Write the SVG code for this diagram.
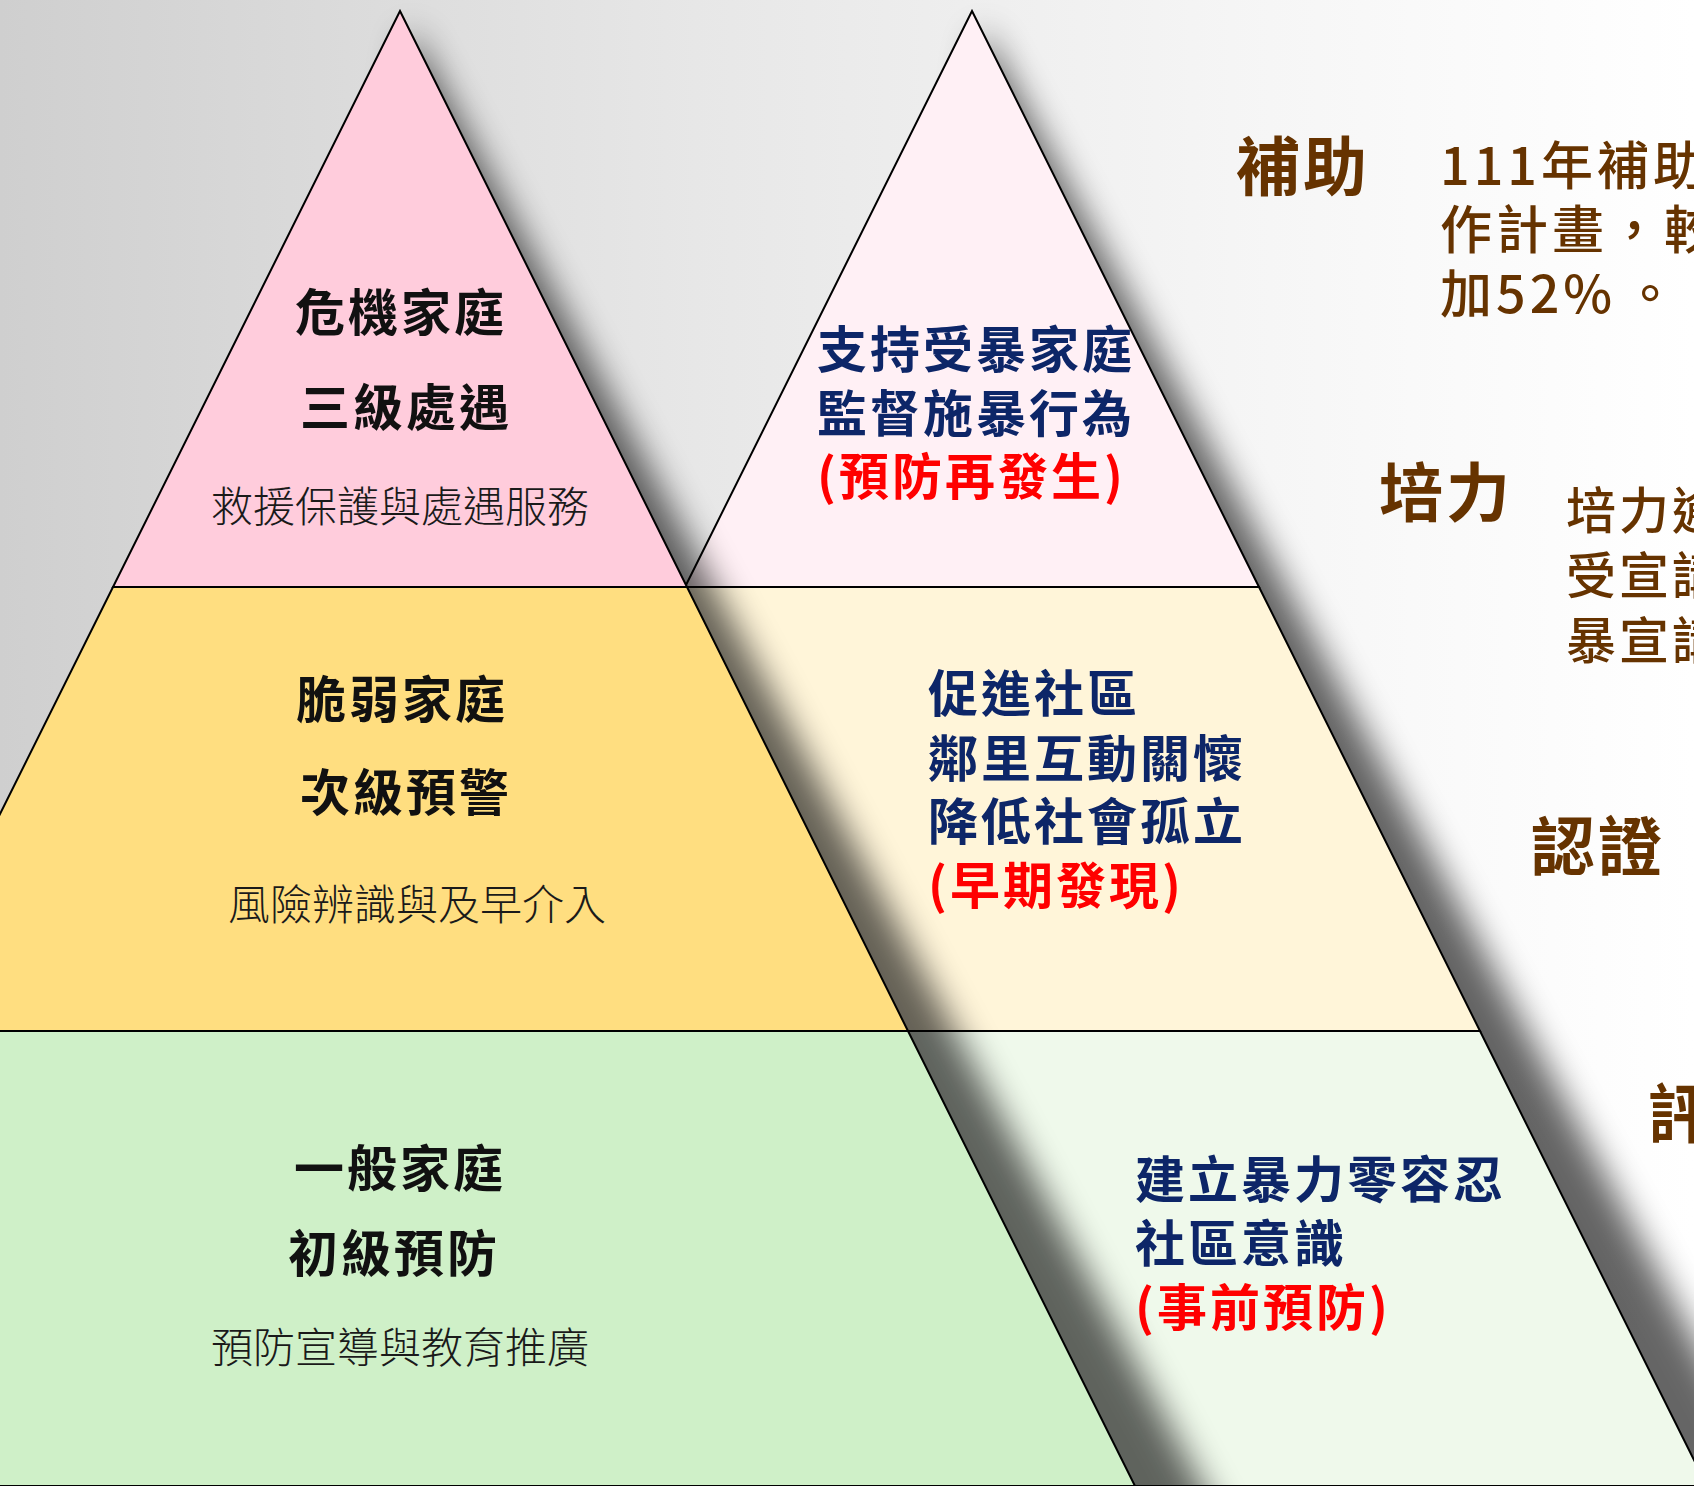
<svg xmlns="http://www.w3.org/2000/svg" width="1694" height="1486" viewBox="0 0 1694 1486">
  <defs>
    <linearGradient id="bg" x1="0" y1="0" x2="1" y2="0">
      <stop offset="0" stop-color="#cfcfcf"/>
      <stop offset="0.41" stop-color="#e7e7e7"/>
      <stop offset="0.75" stop-color="#f6f6f6"/>
      <stop offset="1" stop-color="#ffffff"/>
    </linearGradient>
    <filter id="blur" x="-20%" y="-10%" width="140%" height="120%">
      <feGaussianBlur stdDeviation="17"/>
    </filter>
    <style>
      .band { stroke: #000; stroke-width: 2; stroke-linejoin: miter; }
      .shadow { fill: #000; opacity: 0.6; filter: url(#blur); }
      text { font-family: "Noto Sans CJK TC", "Noto Sans CJK SC", sans-serif; }
      .h { font-weight: 700; font-size: 50px; fill: #111; letter-spacing: 3px; text-anchor: middle; }
      .s { font-weight: 300; font-size: 42px; fill: #1a1a1a; text-anchor: middle; }
      .b { font-weight: 700; font-size: 50px; fill: #0d2668; letter-spacing: 3px; }
      .r { fill: #ff0000; }
      .k { font-weight: 700; font-size: 64px; fill: #663300; letter-spacing: 3px; }
      .d { font-weight: 500; font-size: 52px; fill: #663300; letter-spacing: 4px; }
      .d2 { font-weight: 500; font-size: 50px; fill: #663300; letter-spacing: 3px; }
    </style>
  </defs>

  <rect x="0" y="0" width="1694" height="1486" fill="url(#bg)"/>

  <!-- Right pyramid -->
  <g id="right-pyramid">
    <polygon class="shadow" points="982,28 1820,1570 720,1570"/>
    <polygon id="rp-top" class="band" fill="#fff0f5" points="972,11 1259,587 685,587"/>
    <polygon id="rp-mid" class="band" fill="#fff5d9" points="685,587 1259,587 1480,1031 464,1031"/>
    <polygon id="rp-bot" class="band" fill="#eff9eb" points="464,1031 1480,1031 1707,1486 237,1486"/>
  </g>

  <!-- Left pyramid -->
  <g id="left-pyramid">
    <polygon class="shadow" points="410,28 1248,1570 150,1570"/>
    <polygon id="lp-top" class="band" fill="#ffccdc" points="400,11 687,587 113,587"/>
    <polygon id="lp-mid" class="band" fill="#ffde80" points="113,587 687,587 908,1031 -108,1031"/>
    <polygon id="lp-bot" class="band" fill="#cff0c8" points="-108,1031 908,1031 1135,1486 -335,1486"/>
  </g>

  <!-- Left pyramid texts -->
  <g id="node-crisis">
    <text class="h" x="401" y="331">危機家庭</text>
    <text class="h" x="406" y="426">三級處遇</text>
    <text class="s" x="400" y="522">救援保護與處遇服務</text>
  </g>
  <g id="node-vulnerable">
    <text class="h" x="402" y="718">脆弱家庭</text>
    <text class="h" x="406" y="811">次級預警</text>
    <text class="s" x="417" y="920">風險辨識與及早介入</text>
  </g>
  <g id="node-general">
    <text class="h" x="400" y="1187">一般家庭</text>
    <text class="h" x="394" y="1272">初級預防</text>
    <text class="s" x="400" y="1363">預防宣導與教育推廣</text>
  </g>

  <!-- Right pyramid texts -->
  <g id="node-recurrence">
    <text class="b" x="817" y="368">支持受暴家庭</text>
    <text class="b" x="817" y="432">監督施暴行為</text>
    <text class="b r" x="817" y="495">(預防再發生)</text>
  </g>
  <g id="node-early">
    <text class="b" x="928" y="712">促進社區</text>
    <text class="b" x="928" y="777">鄰里互動關懷</text>
    <text class="b" x="928" y="840">降低社會孤立</text>
    <text class="b r" x="928" y="904">(早期發現)</text>
  </g>
  <g id="node-prevent">
    <text class="b" x="1135" y="1198">建立暴力零容忍</text>
    <text class="b" x="1135" y="1262">社區意識</text>
    <text class="b r" x="1135" y="1326">(事前預防)</text>
  </g>

  <!-- Right side texts -->
  <g id="node-subsidy">
    <text class="k" x="1236" y="190">補助</text>
    <text class="d" x="1440" y="185">111年補助</text>
    <text class="d" x="1440" y="249">作計畫，較</text>
    <text class="d" x="1440" y="313">加52%<tspan dx="8">。</tspan></text>
  </g>
  <g id="node-empower">
    <text class="k" x="1379" y="516">培力</text>
    <text class="d2" x="1566" y="529">培力逾</text>
    <text class="d2" x="1566" y="594">受宣講</text>
    <text class="d2" x="1566" y="659">暴宣講</text>
  </g>
  <g id="node-cert">
    <text class="k" x="1531" y="870">認證</text>
  </g>
  <g id="node-eval">
    <text class="k" x="1648" y="1137">評</text>
  </g>
</svg>
